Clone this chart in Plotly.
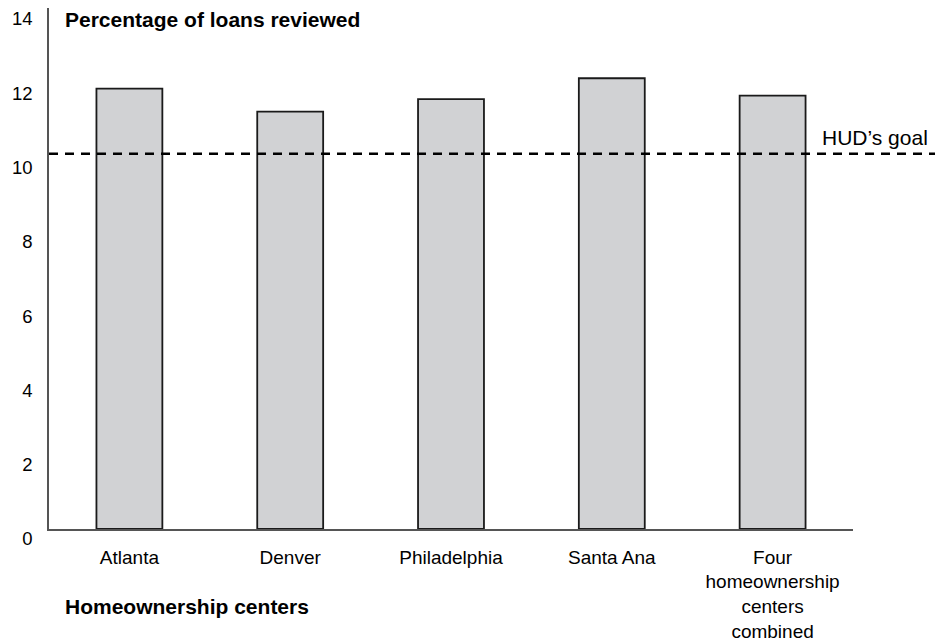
import plotly.graph_objects as go

categories = ["Atlanta", "Denver", "Philadelphia", "Santa Ana",
              "Four<br>homeownership<br>centers<br>combined"]
pct_reviewed = [11.85, 11.23, 11.57, 12.13, 11.66]
hud_goal = [10.10]
y_ticks = [0, 2, 4, 6, 8, 10, 12, 14]

FONT = "Liberation Sans, Arial, sans-serif"

fig = go.Figure()
fig.add_trace(go.Bar(
    x=categories, y=pct_reviewed,
    marker=dict(color="#d1d2d4", line=dict(color="#1a1a1a", width=1.8)),
    width=0.41,
    hoverinfo="skip",
))

fig.add_shape(type="line", xref="paper", yref="y",
              x0=0, x1=1.103, y0=hud_goal[0], y1=hud_goal[0],
              line=dict(color="black", width=2.5, dash="9px,7px"))

fig.add_annotation(text="<b>Percentage of loans reviewed</b>", xref="paper", yref="paper",
                   x=0.0174, y=0.977, xanchor="left", yanchor="middle", showarrow=False,
                   font=dict(family=FONT, size=21, color="black"))
fig.add_annotation(text="<b>Homeownership centers</b>", xref="paper", yref="paper",
                   x=0.0174, y=-0.148, xanchor="left", yanchor="middle", showarrow=False,
                   font=dict(family=FONT, size=21, color="black"))
fig.add_annotation(text="HUD’s goal", xref="paper", yref="paper",
                   x=0.959, y=0.752, xanchor="left", yanchor="middle", showarrow=False,
                   font=dict(family=FONT, size=21, color="black"))

fig.update_layout(
    width=943, height=643,
    margin=dict(l=41, r=98, t=0, b=122),
    plot_bgcolor="white", paper_bgcolor="white",
    showlegend=False,
    font=dict(family=FONT, size=19, color="black"),
    xaxis=dict(showline=True, linecolor="#555555", linewidth=1.5, showgrid=False,
               ticks="", range=[-0.5, 4.5], ticklabelstandoff=10, automargin=False,
               tickfont=dict(family=FONT, size=19, color="black")),
    yaxis=dict(showline=True, linecolor="#555555", linewidth=1.5, showgrid=False,
               zeroline=False, ticks="", range=[0, 14.02], automargin=False,
               tickvals=y_ticks, ticktext=[str(v) for v in y_ticks],
               ticklabelstandoff=11, ticklabelshift=10, ticklabeloverflow="allow",
               tickfont=dict(family=FONT, size=18.5, color="black")),
)

fig.write_html("out.html")
